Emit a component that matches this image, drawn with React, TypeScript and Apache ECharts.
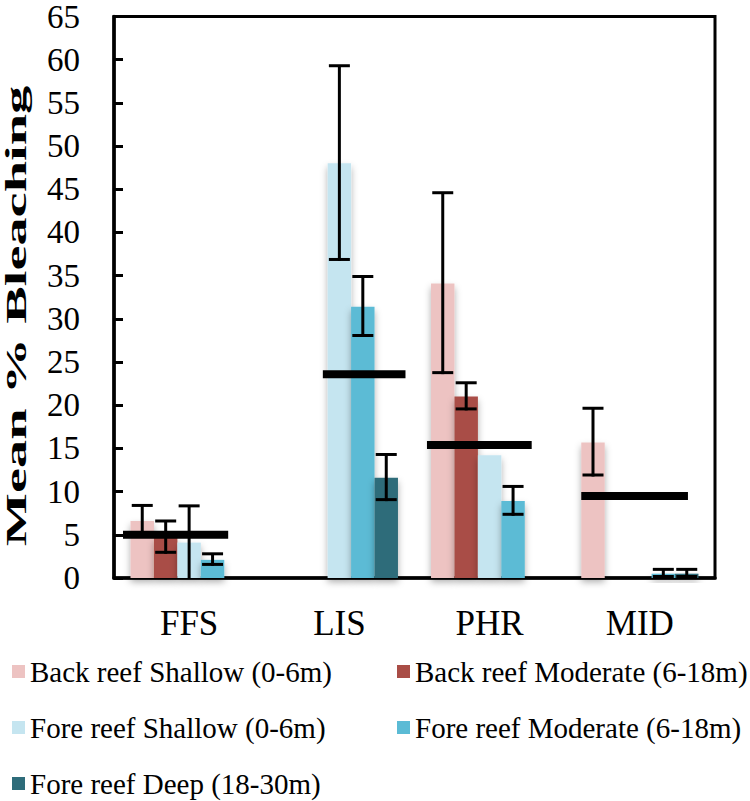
import React, { useEffect, useRef } from "react";
import * as echarts from "echarts";

const categories = ["FFS", "LIS", "PHR", "MID"];
const seriesNames = [
  "Back reef Shallow (0-6m)",
  "Back reef Moderate (6-18m)",
  "Fore reef Shallow (0-6m)",
  "Fore reef Moderate (6-18m)",
  "Fore reef Deep (18-30m)",
];
const seriesColors = ["#EDC3C2", "#A94D46", "#C5E5F0", "#5BBBD5", "#2E6C7A"];

const backShallow = [6.6, null, 34.1, 15.7];
const backModerate = [4.7, null, 21.0, null];
const foreShallow = [4.1, 48.0, 14.2, null];
const foreModerate = [2.1, 31.4, 8.9, 0.5];
const foreDeep = [null, 11.6, null, 0.5];

const backShallowErr = [1.8, null, 10.5, 3.95];
const backModerateErr = [1.9, null, 1.6, null];
const foreShallowErr = [4.25, 11.3, null, null];
const foreModerateErr = [0.7, 3.5, 1.7, 0.5];
const foreDeepErr = [null, 2.7, null, 0.5];

const siteMeans = [5.0, 23.6, 15.4, 9.5];
const siteMeanFrom = [0.06, 0.39, 0.083, 0.11];
const siteMeanTo = [0.76, 0.94, 0.78, 0.82];

const yTicks = [0, 5, 10, 15, 20, 25, 30, 35, 40, 45, 50, 55, 60, 65];

const FONT = "'Liberation Serif', 'Times New Roman', serif";
const CAT_GAP = 0.22;

export default function App() {
  const ref = useRef<HTMLDivElement>(null);
  useEffect(() => {
    if (!ref.current) return;
    const chart = echarts.init(ref.current, undefined, { renderer: "svg" });
    const means = [backShallow, backModerate, foreShallow, foreModerate, foreDeep];
    const errs = [backShallowErr, backModerateErr, foreShallowErr, foreModerateErr, foreDeepErr];

    const barSeries = means.map((arr, k) => ({
      type: "bar",
      name: seriesNames[k],
      data: arr.map((v) => (v == null ? "-" : v)),
      barGap: "0%",
      barCategoryGap: CAT_GAP * 100 + "%",
      itemStyle: {
        color: seriesColors[k],
        shadowBlur: 7,
        shadowColor: "rgba(0,0,0,0.32)",
        shadowOffsetY: 4,
      },
      z: 2,
    }));

    const errSeries = errs.map((arr, k) => ({
      type: "custom",
      name: "err" + k,
      data: arr
        .map((e, i) => (e == null || means[k][i] == null ? null : [i, means[k][i], e]))
        .filter((d) => d != null),
      z: 5,
      silent: true,
      renderItem: (params: any, api: any) => {
        const ci = api.value(0);
        const m = api.value(1);
        const e = api.value(2);
        const catW = api.size([1, 0])[0];
        const bw = (catW * (1 - CAT_GAP)) / 5;
        const cx = api.coord([ci, 0])[0] + (k - 2) * bw;
        const top = api.coord([ci, m + e])[1];
        const lowV = Math.max(0, m - e);
        const bot = api.coord([ci, lowV])[1];
        const hw = 10.5;
        const style = { stroke: "#000", lineWidth: 3 };
        const children: any[] = [
          { type: "line", shape: { x1: cx, y1: top, x2: cx, y2: bot }, style },
          { type: "line", shape: { x1: cx - hw, y1: top, x2: cx + hw, y2: top }, style },
        ];
        if (m - e >= 0) {
          children.push({ type: "line", shape: { x1: cx - hw, y1: bot - 1.5, x2: cx + hw, y2: bot - 1.5 }, style });
        }
        return { type: "group", children };
      },
    }));

    const meanSeries = {
      type: "custom",
      name: "siteMean",
      data: siteMeans.map((v, i) => [i, v, siteMeanFrom[i], siteMeanTo[i]]),
      z: 4,
      silent: true,
      renderItem: (params: any, api: any) => {
        const ci = api.value(0);
        const v = api.value(1);
        const catW = api.size([1, 0])[0];
        const left = api.coord([ci, 0])[0] - catW / 2;
        const y = api.coord([ci, v])[1];
        return {
          type: "line",
          shape: { x1: left + api.value(2) * catW, y1: y, x2: left + api.value(3) * catW, y2: y },
          style: { stroke: "#000", lineWidth: 8 },
        };
      },
    };

    const legendPos = [
      { left: 12, top: 657 },
      { left: 397, top: 657 },
      { left: 12, top: 713 },
      { left: 397, top: 713 },
      { left: 12, top: 769 },
    ];

    chart.setOption({
      animation: false,
      backgroundColor: "#fff",
      textStyle: { fontFamily: FONT },
      grid: {
        left: 114,
        right: 35,
        top: 13,
        bottom: 223,
        show: true,
        borderColor: "#000",
        borderWidth: 3,
        backgroundColor: "transparent",
      },
      legend: legendPos.map((p, k) => ({
        data: [seriesNames[k]],
        left: p.left,
        top: p.top,
        padding: 0,
        itemWidth: 13,
        itemHeight: 13,
        itemGap: 0,
        icon: "rect",
        selectedMode: false,
        textStyle: { fontSize: 29, fontFamily: FONT, color: "#000" },
      })),
      xAxis: {
        type: "category",
        data: categories,
        axisLine: { lineStyle: { color: "#000", width: 3.5 } },
        axisTick: { inside: true, length: 8, lineStyle: { color: "#000", width: 3 } },
        axisLabel: { fontSize: 35, fontFamily: FONT, color: "#000", margin: 28 },
        splitLine: { show: false },
      },
      yAxis: {
        type: "value",
        min: yTicks[0],
        max: yTicks[yTicks.length - 1],
        interval: 5,
        axisLine: { show: true, lineStyle: { color: "#000", width: 3.5 } },
        axisTick: { show: true, inside: true, length: 9, lineStyle: { color: "#000", width: 3 } },
        axisLabel: { fontSize: 33, fontFamily: FONT, color: "#000", margin: 34 },
        splitLine: { show: false },
      },
      graphic: [
        {
          type: "text",
          x: 16,
          y: 316,
          rotation: Math.PI / 2,
          scaleX: 1.88,
          style: {
            text: "Mean % Bleaching",
            fontSize: 30,
            fontWeight: "bold",
            fontFamily: FONT,
            fill: "#000",
            align: "center",
            verticalAlign: "middle",
          },
        },
      ],
      series: [...barSeries, meanSeries, ...errSeries],
    });
    return () => chart.dispose();
  }, []);
  return (
    <div
      ref={ref}
      style={{ position: "absolute", left: 0, top: 0, width: 750, height: 801 }}
    />
  );
}
